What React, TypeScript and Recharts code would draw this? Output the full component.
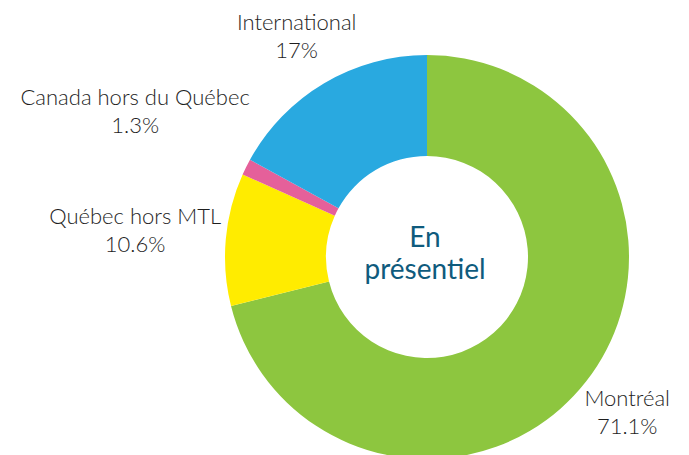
import React from "react";
import { PieChart, Pie, Cell } from "recharts";

const categories = ["Montréal", "Québec hors MTL", "Canada hors du Québec", "International"];
const values = [71.1, 10.6, 1.3, 17];
const valueLabels = ["71.1%", "10.6%", "1.3%", "17%"];
const centerLines = ["En", "présentiel"];

const colors = ["#8dc63f", "#ffec00", "#e5609a", "#29a9e0"];
const labelRadius = [254, 293, 326, 256];

const data = categories.map((name, i) => ({ name, value: values[i], label: valueLabels[i] }));

const RAD = Math.PI / 180;
const FONT = "Lato, 'Noto Sans', sans-serif";
const W = 689;
const H = 455;
const CX = 427;
const CY = 257;

const renderLabel = (props: any) => {
  const { cx, cy, midAngle, index } = props;
  const r = labelRadius[index];
  const x = cx + r * Math.cos(-midAngle * RAD);
  const y = cy + r * Math.sin(-midAngle * RAD);
  return (
    <text x={x} y={y} textAnchor="middle" fontFamily={FONT} fontWeight={300} fontSize={22} fill="#1e1e1e">
      <tspan x={x} dy={-7}>{data[index].name}</tspan>
      <tspan x={x} dy={28}>{data[index].label}</tspan>
    </text>
  );
};

export default function App() {
  return (
    <div style={{ position: "absolute", left: 0, top: 0, width: W, height: H }}>
      <PieChart width={W} height={H} margin={{ top: 0, right: 0, bottom: 0, left: 0 }}>
        <Pie
          data={data}
          dataKey="value"
          nameKey="name"
          cx={CX}
          cy={CY}
          innerRadius={101}
          outerRadius={202}
          startAngle={90}
          endAngle={-270}
          stroke="none"
          isAnimationActive={false}
          label={renderLabel}
          labelLine={false}
        >
          {data.map((d, i) => (
            <Cell key={d.name} fill={colors[i]} />
          ))}
        </Pie>
      </PieChart>
      <svg width={W} height={H} style={{ position: "absolute", left: 0, top: 0, pointerEvents: "none" }}>
        <text x={CX - 2} y={CY} textAnchor="middle" fontFamily={FONT} fontSize={28} fill="#0f5b7d">
          <tspan x={CX - 2} dy={-10}>{centerLines[0]}</tspan>
          <tspan x={CX - 2} dy={32}>{centerLines[1]}</tspan>
        </text>
      </svg>
    </div>
  );
}
